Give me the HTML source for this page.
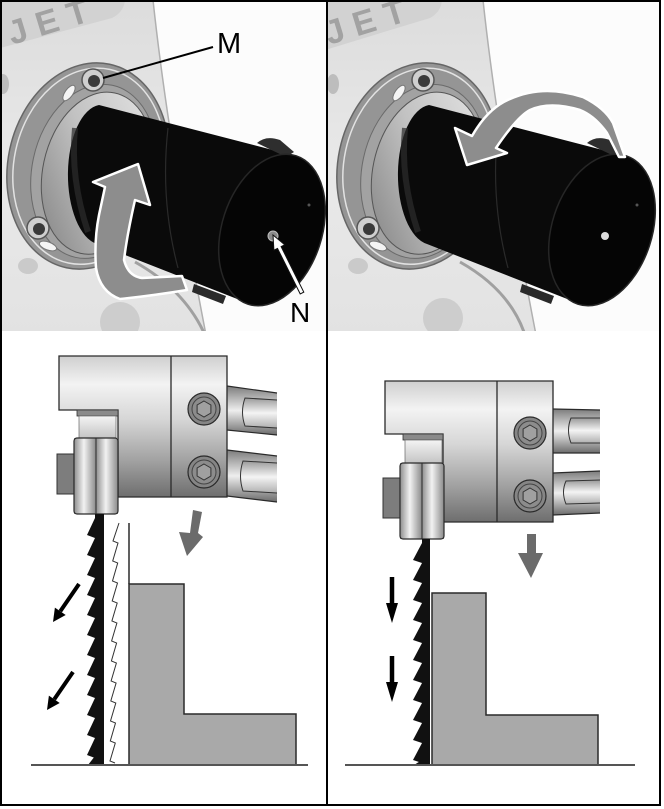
<!DOCTYPE html>
<html>
<head>
<meta charset="utf-8">
<style>
html,body{margin:0;padding:0;background:#fff;}
svg{display:block;}
</style>
</head>
<body>
<svg width="664" height="809" viewBox="0 0 664 809" xmlns="http://www.w3.org/2000/svg">
<defs>
  <clipPath id="cl"><rect x="2" y="2" width="324" height="329"/></clipPath>
  <clipPath id="cr"><rect x="328" y="2" width="331" height="329"/></clipPath>
  <linearGradient id="blk" x1="0" y1="0" x2="0" y2="1">
    <stop offset="0" stop-color="#cfcfcf"/>
    <stop offset="0.2" stop-color="#f3f3f3"/>
    <stop offset="0.45" stop-color="#d6d6d6"/>
    <stop offset="0.75" stop-color="#a0a0a0"/>
    <stop offset="1" stop-color="#6e6e6e"/>
  </linearGradient>
  <linearGradient id="bear" x1="0" y1="0" x2="1" y2="0">
    <stop offset="0" stop-color="#8e8e8e"/>
    <stop offset="0.45" stop-color="#f2f2f2"/>
    <stop offset="1" stop-color="#8a8a8a"/>
  </linearGradient>
  <linearGradient id="rod" x1="0" y1="0" x2="0" y2="1">
    <stop offset="0" stop-color="#7c7c7c"/>
    <stop offset="0.5" stop-color="#eeeeee"/>
    <stop offset="1" stop-color="#6c6c6c"/>
  </linearGradient>
  <linearGradient id="slot" x1="0" y1="0" x2="0" y2="1">
    <stop offset="0" stop-color="#9a9a9a"/>
    <stop offset="0.5" stop-color="#f4f4f4"/>
    <stop offset="1" stop-color="#b0b0b0"/>
  </linearGradient>
  <linearGradient id="light" x1="0" y1="0" x2="0" y2="1">
    <stop offset="0" stop-color="#f4f4f4"/>
    <stop offset="1" stop-color="#c4c4c4"/>
  </linearGradient>
  <linearGradient id="bg" x1="0" y1="0" x2="0" y2="1">
    <stop offset="0" stop-color="#dcdcdc"/>
    <stop offset="0.5" stop-color="#e9e9e9"/>
    <stop offset="1" stop-color="#e2e2e2"/>
  </linearGradient>
  <linearGradient id="collar" x1="1" y1="0" x2="0" y2="1">
    <stop offset="0" stop-color="#e6e6e6"/>
    <stop offset="0.5" stop-color="#c2c2c2"/>
    <stop offset="1" stop-color="#7e7e7e"/>
  </linearGradient>
</defs>

<rect x="0" y="0" width="664" height="809" fill="#ffffff"/>

<!-- LEFT PHOTO -->
<g clip-path="url(#cl)">
  <rect x="0" y="0" width="340" height="340" fill="url(#bg)"/>
  <path d="M153,0 Q168,140 207,340 L340,340 L340,0 Z" fill="#fcfcfc"/>
  <path d="M153,0 Q168,140 207,340" stroke="#b0b0b0" stroke-width="1.5" fill="none"/>
  <path d="M0,0 H125 Q124,12 112,18 L0,48 Z" fill="#d2d2d2"/>
  <text x="12" y="45" transform="rotate(-17 12 45)" font-family="Liberation Sans, sans-serif" font-weight="bold" font-size="34" letter-spacing="10" fill="#a2a2a2">JET</text>
  <ellipse cx="3" cy="84" rx="6" ry="10" fill="#bdbdbd"/>
  <ellipse cx="28" cy="266" rx="10" ry="8" fill="#cacaca"/>
  <circle cx="120" cy="322" r="20" fill="#cdcdcd"/>
  <path d="M135,262 Q185,290 205,335" stroke="#a0a0a0" stroke-width="3" fill="none"/>
  <!-- flange -->
  <g transform="rotate(12 88 166)">
    <ellipse cx="88" cy="166" rx="80" ry="104" fill="#959595" stroke="#666" stroke-width="1.5"/>
    <ellipse cx="89" cy="166" rx="75" ry="99" fill="none" stroke="#e2e2e2" stroke-width="1.5"/>
    <ellipse cx="95" cy="170" rx="62" ry="88" fill="#a2a2a2" stroke="#6a6a6a" stroke-width="1"/>
    <ellipse cx="99" cy="171" rx="55" ry="82" fill="url(#collar)" stroke="#555" stroke-width="1"/>
  </g>
  <ellipse cx="69" cy="93" rx="4" ry="9" transform="rotate(35 69 93)" fill="#f4f4f4" stroke="#777"/>
  <circle cx="93" cy="80" r="11" fill="#cfcfcf" stroke="#555" stroke-width="1.5"/>
  <circle cx="94" cy="81" r="6" fill="#3a3a3a"/>
  <ellipse cx="48" cy="246" rx="9" ry="4" transform="rotate(20 48 246)" fill="#f4f4f4" stroke="#777"/>
  <circle cx="38" cy="228" r="11" fill="#cfcfcf" stroke="#555" stroke-width="1.5"/>
  <circle cx="39" cy="229" r="6" fill="#3a3a3a"/>
  <!-- cylinder -->
  <path d="M99,105 L292,155 L322,200 L250,304 L97,244 A34,70 0 0,1 99,105 Z" fill="#0a0a0a"/>
  <path d="M75,128 Q70,178 88,232" stroke="#2c2c2c" stroke-width="6" fill="none" opacity="0.7"/>
  <path d="M168,128 Q160,200 178,268" stroke="#2a2a2a" stroke-width="1.2" fill="none"/>
  <path d="M257,143 Q266,135 280,140 L294,152 L286,157 Z" fill="#2e2e2e"/>
  <path d="M194,284 L226,296 L223,304 L192,292 Z" fill="#2a2a2a"/>
  <ellipse cx="272" cy="230" rx="50" ry="78" transform="rotate(18 272 230)" fill="#050505" stroke="#262626" stroke-width="1.5"/>
  <circle cx="273" cy="236" r="5" fill="#8a8a8a" stroke="#bdbdbd"/>
  <circle cx="309" cy="205" r="1.5" fill="#555"/>
  <!-- gray curved arrow -->
  <path d="M138,164 L150,205 L135,200 Q127,235 124,260 Q128,276 142,278 L182,276 L187,290 Q150,296 120,299 Q100,292 96,268 Q94,240 99,215 L105,187 L93,182 Z" fill="#8d8d8d" stroke="#ffffff" stroke-width="2.5" stroke-linejoin="round"/>
  <!-- M label -->
  <line x1="213" y1="47" x2="103" y2="78" stroke="#000" stroke-width="2"/>
  <text x="217" y="53" font-family="Liberation Sans, sans-serif" font-size="29" fill="#000">M</text>
  <!-- N arrow -->
  <polygon points="273,235 284.7,244.8 281.1,246.6 303.8,292.1 300.2,293.9 277.5,248.4 273.9,250.2" fill="#ffffff" stroke="#111" stroke-width="1"/>
  <text x="290" y="322" font-family="Liberation Sans, sans-serif" font-size="28" fill="#000">N</text>
</g>

<!-- RIGHT PHOTO -->
<g clip-path="url(#cr)">
  <g transform="translate(330,0)">
    <rect x="-10" y="0" width="340" height="340" fill="url(#bg)"/>
    <path d="M153,0 Q168,140 207,340 L340,340 L340,0 Z" fill="#fcfcfc"/>
    <path d="M153,0 Q168,140 207,340" stroke="#b0b0b0" stroke-width="1.5" fill="none"/>
    <path d="M-5,0 H112 Q111,12 100,18 L-5,50 Z" fill="#d2d2d2"/>
    <text x="-1" y="45" transform="rotate(-17 -1 45)" font-family="Liberation Sans, sans-serif" font-weight="bold" font-size="34" letter-spacing="10" fill="#a2a2a2">JET</text>
    <ellipse cx="3" cy="84" rx="6" ry="10" fill="#bdbdbd"/>
    <ellipse cx="28" cy="266" rx="10" ry="8" fill="#cacaca"/>
    <circle cx="113" cy="318" r="20" fill="#cdcdcd"/>
    <path d="M130,262 Q180,290 195,335" stroke="#a0a0a0" stroke-width="3" fill="none"/>
    <g transform="rotate(12 88 166)">
      <ellipse cx="88" cy="166" rx="80" ry="104" fill="#959595" stroke="#666" stroke-width="1.5"/>
      <ellipse cx="89" cy="166" rx="75" ry="99" fill="none" stroke="#e2e2e2" stroke-width="1.5"/>
      <ellipse cx="95" cy="170" rx="62" ry="88" fill="#a2a2a2" stroke="#6a6a6a" stroke-width="1"/>
      <ellipse cx="99" cy="171" rx="55" ry="82" fill="url(#collar)" stroke="#555" stroke-width="1"/>
    </g>
    <ellipse cx="69" cy="93" rx="4" ry="9" transform="rotate(35 69 93)" fill="#f4f4f4" stroke="#777"/>
    <circle cx="93" cy="80" r="11" fill="#cfcfcf" stroke="#555" stroke-width="1.5"/>
    <circle cx="94" cy="81" r="6" fill="#3a3a3a"/>
    <ellipse cx="48" cy="246" rx="9" ry="4" transform="rotate(20 48 246)" fill="#f4f4f4" stroke="#777"/>
    <circle cx="38" cy="228" r="11" fill="#cfcfcf" stroke="#555" stroke-width="1.5"/>
    <circle cx="39" cy="229" r="6" fill="#3a3a3a"/>
    <path d="M99,105 L292,155 L322,200 L250,304 L97,244 A34,70 0 0,1 99,105 Z" fill="#0a0a0a"/>
    <path d="M75,128 Q70,178 88,232" stroke="#2c2c2c" stroke-width="6" fill="none" opacity="0.7"/>
    <path d="M168,128 Q160,200 178,268" stroke="#2a2a2a" stroke-width="1.2" fill="none"/>
    <path d="M257,143 Q266,135 280,140 L294,152 L286,157 Z" fill="#2e2e2e"/>
    <path d="M192,284 L224,296 L221,304 L190,292 Z" fill="#2a2a2a"/>
    <ellipse cx="272" cy="230" rx="50" ry="78" transform="rotate(18 272 230)" fill="#050505" stroke="#262626" stroke-width="1.5"/>
    <circle cx="275" cy="236" r="4" fill="#dddddd"/>
    <circle cx="307" cy="205" r="1.5" fill="#555"/>
  </g>
  <!-- curved arrow (absolute) -->
  <path d="M467,165 L455,128 L472,136 Q488,108 510,99 Q543,84 583,97 Q605,108 613,123 L625,157 L619,157 L607,133 Q595,116 580,110 Q550,101 530,110 Q517,117 496,148 L507,153 Z" fill="#8d8d8d" stroke="#ffffff" stroke-width="2.5" stroke-linejoin="round"/>
</g>

<!-- LEFT DIAGRAM -->
<g>
  <path d="M227,386 L277,393 L277,435 L227,430 Z" fill="url(#rod)"/>
  <path d="M227,386 L277,393 M227,430 L277,435" stroke="#2a2a2a" stroke-width="1.2"/>
  <path d="M277,400 L245,398 Q240,412 245,426 L277,428" fill="url(#slot)" stroke="#333" stroke-width="1"/>
  <path d="M227,450 L277,456 L277,502 L227,496 Z" fill="url(#rod)"/>
  <path d="M227,450 L277,456 M227,496 L277,502" stroke="#2a2a2a" stroke-width="1.2"/>
  <path d="M277,463 L243,461 Q238,476 243,491 L277,493" fill="url(#slot)" stroke="#333" stroke-width="1"/>
  <path d="M59,356 H227 V497 H118 V410 H59 Z" fill="url(#blk)" stroke="#2a2a2a" stroke-width="1.3"/>
  <line x1="171" y1="356" x2="171" y2="497" stroke="#2a2a2a" stroke-width="1.3"/>
  <circle cx="204" cy="409" r="16" fill="#858585" stroke="#2a2a2a" stroke-width="1.2"/>
  <circle cx="204" cy="409" r="12" fill="#8c8c8c" stroke="#444" stroke-width="1"/>
  <polygon points="204,401 210.9,405 210.9,413 204,417 197.1,413 197.1,405" fill="#a0a0a0" stroke="#333" stroke-width="1"/>
  <circle cx="204" cy="472" r="16" fill="#858585" stroke="#2a2a2a" stroke-width="1.2"/>
  <circle cx="204" cy="472" r="12" fill="#8c8c8c" stroke="#444" stroke-width="1"/>
  <polygon points="204,464 210.9,468 210.9,476 204,480 197.1,476 197.1,468" fill="#a0a0a0" stroke="#333" stroke-width="1"/>
  <rect x="77" y="410" width="41" height="6" fill="#8a8a8a" stroke="#333" stroke-width="0.8"/>
  <rect x="79" y="416" width="37" height="22" fill="url(#light)" stroke="#666" stroke-width="0.7"/>
  <rect x="57" y="454" width="17" height="40" fill="#7d7d7d" stroke="#333" stroke-width="1"/>
  <rect x="74" y="438" width="22" height="76" fill="url(#bear)"/>
  <rect x="96" y="438" width="22" height="76" fill="url(#bear)"/>
  <rect x="74" y="438" width="44" height="76" rx="3" fill="none" stroke="#2a2a2a" stroke-width="1.2"/>
  <line x1="96" y1="438" x2="96" y2="514" stroke="#2a2a2a" stroke-width="1"/>
  <rect x="95" y="514" width="9" height="251" fill="#111"/>
  <g fill="#111">
    <polygon points="95,518 87,535 95,538"/>
    <polygon points="95,538 87,555 95,558"/>
    <polygon points="95,558 87,575 95,578"/>
    <polygon points="95,578 87,595 95,598"/>
    <polygon points="95,598 87,615 95,618"/>
    <polygon points="95,618 87,635 95,638"/>
    <polygon points="95,638 87,655 95,658"/>
    <polygon points="95,658 87,675 95,678"/>
    <polygon points="95,678 87,695 95,698"/>
    <polygon points="95,698 87,715 95,718"/>
    <polygon points="95,718 87,735 95,738"/>
    <polygon points="95,738 87,755 95,758"/>
    <polygon points="95,756 88,765 95,765"/>
  </g>
  <polyline points="119,523 113,541 118,543 112.7,561 117.7,563 112.5,581 117.5,583 112.2,601 117.2,603 111.9,621 116.9,623 111.6,641 116.6,643 111.4,661 116.4,663 111.1,681 116.1,683 110.8,701 115.8,703 110.5,721 115.5,723 110.3,741 115.3,743 110,761 115,763" fill="none" stroke="#333" stroke-width="1"/>
  <line x1="129" y1="523" x2="129" y2="584" stroke="#2a2a2a" stroke-width="1.5"/>
  <path d="M129,584 H184 V714 H296 V765 H129 Z" fill="#a9a9a9" stroke="#2a2a2a" stroke-width="1.5"/>
  <line x1="31" y1="765" x2="308" y2="765" stroke="#555" stroke-width="2"/>
  <polygon points="193,510 202,512 198,533 203,537 187,556 179,532 190,533" fill="#6b6b6b"/>
  <line x1="79" y1="584" x2="60.3" y2="611.3" stroke="#000" stroke-width="4"/>
  <polygon points="53,622 65.7,615 54.9,607.6" fill="#000"/>
  <line x1="73" y1="672" x2="54.3" y2="699.3" stroke="#000" stroke-width="4"/>
  <polygon points="47,710 59.7,703 48.9,695.6" fill="#000"/>
</g>

<!-- RIGHT DIAGRAM -->
<g>
  <path d="M553,409 L600,410 L600,453 L553,453 Z" fill="url(#rod)"/>
  <path d="M553,409 L600,410 M553,453 L600,453" stroke="#2a2a2a" stroke-width="1.2"/>
  <path d="M600,418 L571,418 Q566,430 571,443 L600,443" fill="url(#slot)" stroke="#333" stroke-width="1"/>
  <path d="M553,473 L600,471 L600,513 L553,515 Z" fill="url(#rod)"/>
  <path d="M553,473 L600,471 M553,515 L600,513" stroke="#2a2a2a" stroke-width="1.2"/>
  <path d="M600,480 L566,481 Q561,492 566,504 L600,503" fill="url(#slot)" stroke="#333" stroke-width="1"/>
  <path d="M385,381 H553 V522 H443 V434 H385 Z" fill="url(#blk)" stroke="#2a2a2a" stroke-width="1.3"/>
  <line x1="497" y1="381" x2="497" y2="522" stroke="#2a2a2a" stroke-width="1.3"/>
  <circle cx="530" cy="433" r="16" fill="#858585" stroke="#2a2a2a" stroke-width="1.2"/>
  <circle cx="530" cy="433" r="12" fill="#8c8c8c" stroke="#444" stroke-width="1"/>
  <polygon points="530,425 536.9,429 536.9,437 530,441 523.1,437 523.1,429" fill="#a0a0a0" stroke="#333" stroke-width="1"/>
  <circle cx="530" cy="496" r="16" fill="#858585" stroke="#2a2a2a" stroke-width="1.2"/>
  <circle cx="530" cy="496" r="12" fill="#8c8c8c" stroke="#444" stroke-width="1"/>
  <polygon points="530,488 536.9,492 536.9,500 530,504 523.1,500 523.1,492" fill="#a0a0a0" stroke="#333" stroke-width="1"/>
  <rect x="403" y="434" width="40" height="6" fill="#8a8a8a" stroke="#333" stroke-width="0.8"/>
  <rect x="405" y="440" width="37" height="23" fill="url(#light)" stroke="#666" stroke-width="0.7"/>
  <rect x="383" y="478" width="17" height="40" fill="#7d7d7d" stroke="#333" stroke-width="1"/>
  <rect x="400" y="463" width="22" height="76" fill="url(#bear)"/>
  <rect x="422" y="463" width="22" height="76" fill="url(#bear)"/>
  <rect x="400" y="463" width="44" height="76" rx="3" fill="none" stroke="#2a2a2a" stroke-width="1.2"/>
  <line x1="422" y1="463" x2="422" y2="539" stroke="#2a2a2a" stroke-width="1"/>
  <rect x="422" y="539" width="8" height="226" fill="#111"/>
  <g fill="#111">
    <polygon points="422,543 413,560 422,563"/>
    <polygon points="422,563 413,580 422,583"/>
    <polygon points="422,583 413,600 422,603"/>
    <polygon points="422,603 413,620 422,623"/>
    <polygon points="422,623 413,640 422,643"/>
    <polygon points="422,643 413,660 422,663"/>
    <polygon points="422,663 413,680 422,683"/>
    <polygon points="422,683 413,700 422,703"/>
    <polygon points="422,703 413,720 422,723"/>
    <polygon points="422,723 413,740 422,743"/>
    <polygon points="422,743 413,760 422,763"/>
    <polygon points="422,760 414,765 422,765"/>
  </g>
  <path d="M432,593 H486 V715 H598 V765 H432 Z" fill="#a9a9a9" stroke="#2a2a2a" stroke-width="1.5"/>
  <line x1="345" y1="765" x2="635" y2="765" stroke="#555" stroke-width="2"/>
  <polygon points="527,534 536,534 536,553 543,553 531,578 518,553 527,553" fill="#6b6b6b"/>
  <line x1="392" y1="577" x2="392" y2="605" stroke="#000" stroke-width="4.5"/>
  <polygon points="386,603 398,603 392,623" fill="#000"/>
  <line x1="392" y1="656" x2="392" y2="684" stroke="#000" stroke-width="4.5"/>
  <polygon points="386,682 398,682 392,702" fill="#000"/>
</g>

<!-- frame -->
<rect x="1" y="1" width="659" height="804" fill="none" stroke="#000" stroke-width="2"/>
<line x1="327" y1="0" x2="327" y2="806" stroke="#000" stroke-width="2"/>
</svg>
</body>
</html>
